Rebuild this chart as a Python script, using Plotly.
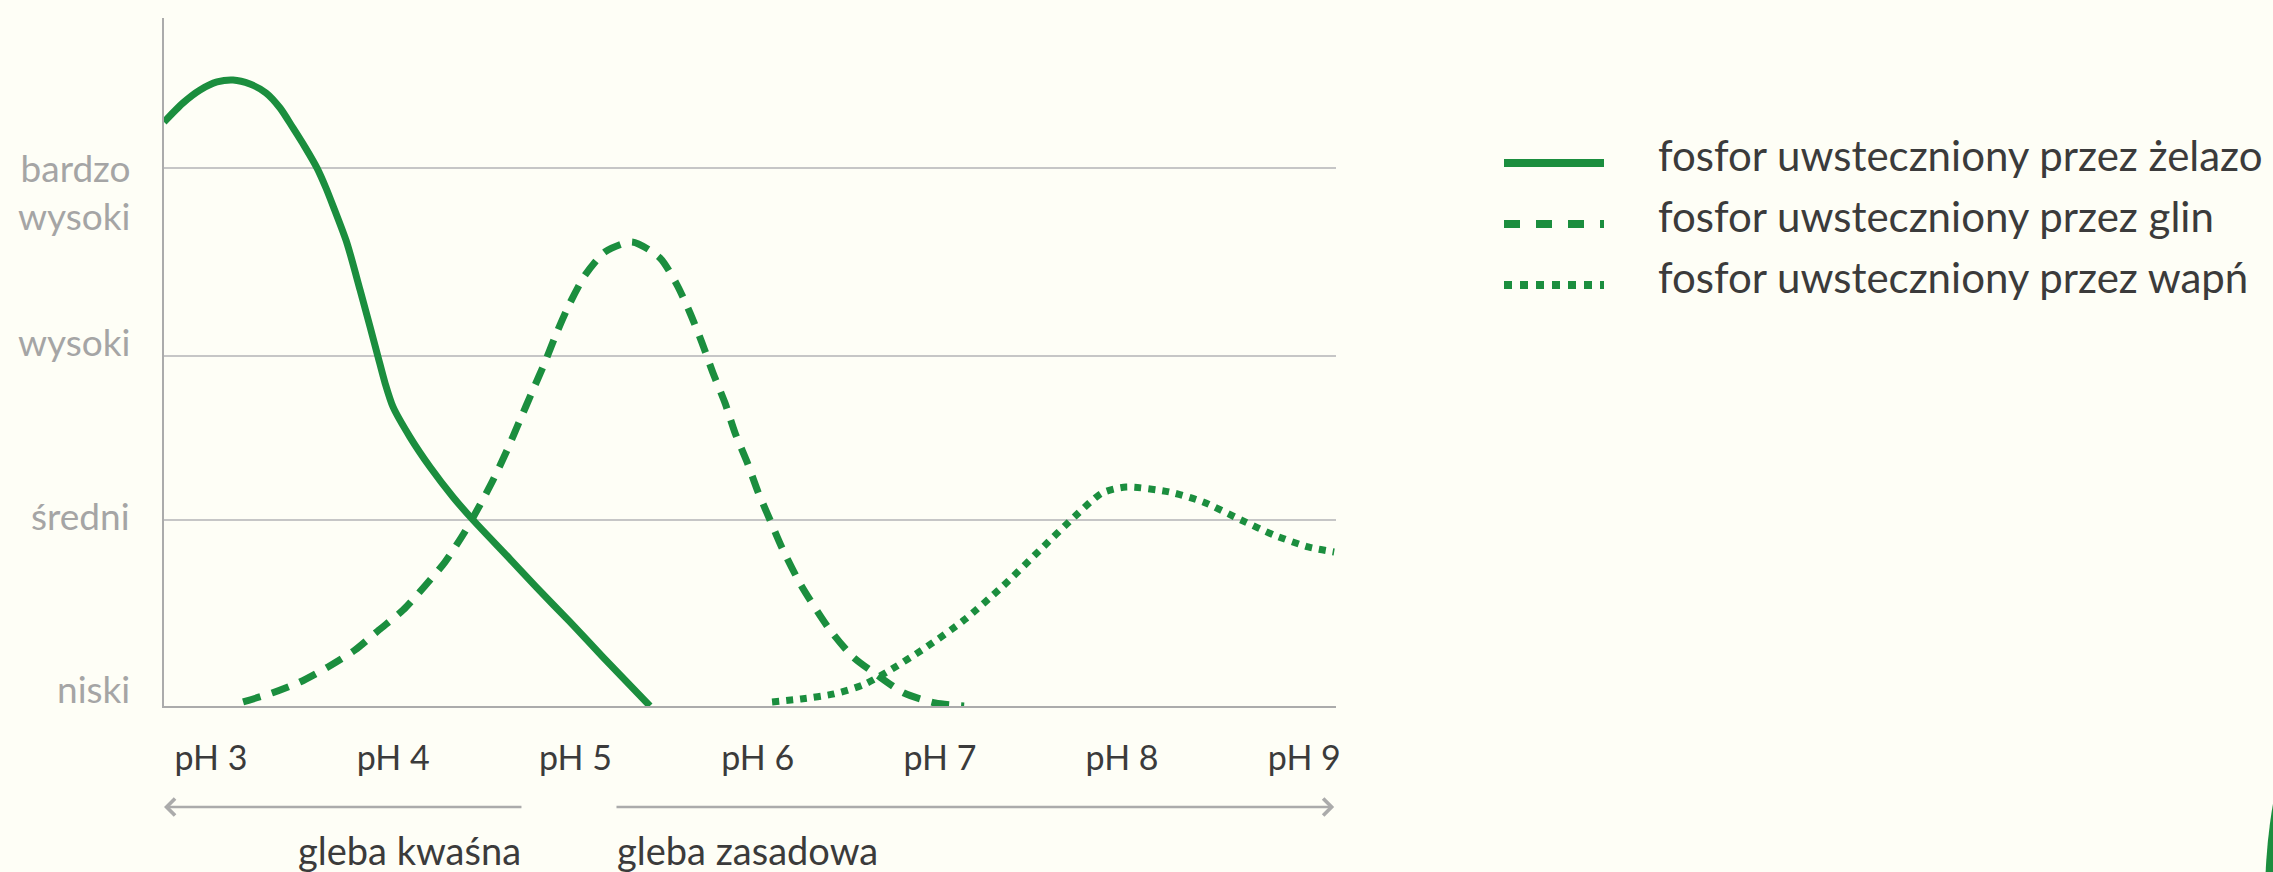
import plotly.graph_objects as go

# ---------------- data ----------------
ph_ticks = [3, 4, 5, 6, 7, 8, 9]
ph_labels = ["pH 3", "pH 4", "pH 5", "pH 6", "pH 7", "pH 8", "pH 9"]

level_names = ["niski", "średni", "wysoki", "bardzo<br>wysoki"]
level_values = [0.0, 1.0, 1.88, 2.89]

series_names = [
    "fosfor uwsteczniony przez żelazo",
    "fosfor uwsteczniony przez glin",
    "fosfor uwsteczniony przez wapń",
]

zelazo_ph = [2.742, 2.846, 2.940, 3.033, 3.121, 3.214, 3.302, 3.379, 3.450,
             3.516, 3.582, 3.631, 3.670, 3.746, 3.818, 3.873, 3.917, 3.955,
             3.999, 4.092, 4.202, 4.328, 4.438, 4.641, 4.784, 4.970, 5.151,
             5.409]
zelazo_y = [3.140, 3.242, 3.312, 3.355, 3.366, 3.344, 3.296, 3.215, 3.108,
            3.005, 2.892, 2.785, 2.688, 2.489, 2.237, 2.038, 1.876, 1.737,
            1.608, 1.446, 1.285, 1.124, 1.000, 0.790, 0.640, 0.452, 0.263,
            0.0]

glin_ph = [3.176, 3.335, 3.488, 3.642, 3.790, 3.922, 4.054, 4.169, 4.284,
           4.389, 4.476, 4.548, 4.625, 4.696, 4.762, 4.833, 4.899, 4.970,
           5.053, 5.162, 5.311, 5.464, 5.558, 5.629, 5.695, 5.755, 5.821,
           5.876, 5.942, 6.002, 6.068, 6.134, 6.238, 6.397, 6.524, 6.655,
           6.803, 6.974, 7.133]
glin_y = [0.022, 0.070, 0.129, 0.210, 0.301, 0.409, 0.516, 0.640, 0.774,
          0.930, 1.081, 1.215, 1.376, 1.538, 1.688, 1.849, 2.011, 2.167,
          2.317, 2.441, 2.495, 2.409, 2.263, 2.113, 1.952, 1.790, 1.629,
          1.468, 1.312, 1.151, 1.000, 0.850, 0.650, 0.409, 0.263, 0.167,
          0.070, 0.016, 0.0]

wapn_ph = [6.079, 6.238, 6.419, 6.578, 6.710, 6.919, 7.133, 7.341, 7.550,
           7.737, 7.890, 8.022, 8.258, 8.445, 8.653, 8.834, 9.021, 9.164]
wapn_y = [0.022, 0.038, 0.065, 0.113, 0.183, 0.312, 0.462, 0.640, 0.839,
          1.016, 1.145, 1.177, 1.151, 1.097, 1.000, 0.919, 0.855, 0.828]

# ---------------- style ----------------
W, H = 2273, 872
ML, MR, MT, MB = 164, 937, 18, 166
PW, PH = W - ML - MR, H - MT - MB
GREEN = "#1b8e3e"
BG = "#fefef6"
AXIS = "#ababab"
GRID = "#c6c6c6"
DARK = "#3b3b3b"
GREY_TXT = "#a5a5a5"
FONT = "Lato"

X_RANGE = [2.742, 9.174]
Y_RANGE = [0.0, 3.699]


def px_x(px):
    return (px - ML) / PW


def px_y(py):
    return (H - MB - py) / PH


dashes = ["solid", "18px,12px", "7px,7px"]
legend_dashes = ["solid", "16px,16px", "8px,8px"]
xs = [zelazo_ph, glin_ph, wapn_ph]
ys = [zelazo_y, glin_y, wapn_y]

fig = go.Figure()
for name, x, y, d in zip(series_names, xs, ys, dashes):
    fig.add_trace(go.Scatter(
        x=x, y=y, mode="lines", name=name, showlegend=False,
        line=dict(color=GREEN, width=7, dash=d, shape="spline", smoothing=0.7),
        cliponaxis=False, hoverinfo="skip",
    ))

annotations = []
shapes = []

# y level labels
label_shifts = [18, 5, 15, -23]
for name, v, s in zip(level_names, level_values, label_shifts):
    annotations.append(dict(
        x=0, xref="paper", y=v, yref="y", xshift=-32, yshift=s,
        xanchor="right", yanchor="middle", align="right",
        text=name, showarrow=False,
        font=dict(family=FONT, size=37, color=GREY_TXT),
    ))

# legend
row_y = [163, 224, 285]
for name, d, ry in zip(series_names, legend_dashes, row_y):
    shapes.append(dict(
        type="line", xref="paper", yref="paper",
        x0=px_x(1504), x1=px_x(1604), y0=px_y(ry), y1=px_y(ry),
        line=dict(color=GREEN, width=8, dash=d),
    ))
    annotations.append(dict(
        x=px_x(1656), xref="paper", y=px_y(ry - 8), yref="paper",
        xanchor="left", yanchor="middle", text=name, showarrow=False,
        font=dict(family=FONT, size=42, color=DARK),
    ))

# soil arrows
arrow_y = px_y(807)
acid_span = [X_RANGE[0], 4.712]
alk_span = [5.217, 9.164]
annotations.append(dict(
    x=acid_span[0], xref="x", y=arrow_y, yref="paper",
    ax=acid_span[1], axref="x", ay=0, ayref="pixel",
    showarrow=True, arrowhead=4, arrowsize=1.3, arrowwidth=2.5,
    arrowcolor=AXIS, text="",
))
annotations.append(dict(
    x=alk_span[1], xref="x", y=arrow_y, yref="paper",
    ax=alk_span[0], axref="x", ay=0, ayref="pixel",
    showarrow=True, arrowhead=4, arrowsize=1.3, arrowwidth=2.5,
    arrowcolor=AXIS, text="",
))
annotations.append(dict(
    x=acid_span[1], xref="x", y=px_y(850), yref="paper",
    xanchor="right", yanchor="middle", text="gleba kwaśna", showarrow=False,
    font=dict(family=FONT, size=38, color=DARK),
))
annotations.append(dict(
    x=alk_span[0], xref="x", y=px_y(850), yref="paper",
    xanchor="left", yanchor="middle", text="gleba zasadowa", showarrow=False,
    font=dict(family=FONT, size=38, color=DARK),
))

# decorative leaf edge at bottom-right corner
shapes.append(dict(
    type="circle", xref="paper", yref="paper",
    x0=px_x(2265), x1=px_x(2395), y0=px_y(700), y1=px_y(1100),
    fillcolor=GREEN, line=dict(width=0),
))

fig.update_layout(
    width=W, height=H,
    margin=dict(l=ML, r=MR, t=MT, b=MB, pad=0),
    paper_bgcolor=BG, plot_bgcolor=BG,
    showlegend=False,
    font=dict(family=FONT, color=DARK),
    xaxis=dict(
        range=X_RANGE, showgrid=False, zeroline=False,
        showline=True, linecolor=AXIS, linewidth=2,
        tickvals=ph_ticks, ticktext=ph_labels, ticks="",
        tickfont=dict(family=FONT, size=34, color=DARK),
        ticklabelstandoff=21,
    ),
    yaxis=dict(
        range=Y_RANGE, showgrid=True, gridcolor=GRID, gridwidth=1.5,
        zeroline=False, showline=True, linecolor=AXIS, linewidth=2,
        tickvals=level_values, showticklabels=False, ticks="",
    ),
    annotations=annotations,
    shapes=shapes,
)

fig.write_html(
    "out.html",
    config={"displayModeBar": False},
    post_script="document.body.style.margin='0';"
                "document.body.style.background='" + BG + "';"
                "document.body.style.overflow='hidden';",
)
